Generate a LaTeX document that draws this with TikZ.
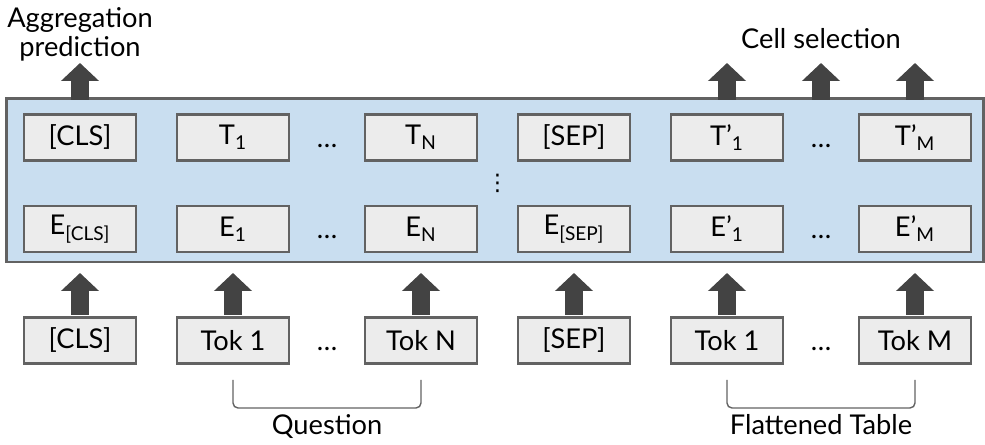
\documentclass[tikz,border=0pt]{standalone}
\usepackage{fontspec}
\setmainfont{Lato}
\newfontfamily\symfont{DejaVu Sans}
\usetikzlibrary{positioning,arrows.meta,fit,backgrounds}
\usepackage{xcolor}
\definecolor{TapasBlue}{RGB}{201,222,240}
\definecolor{TapasGray}{RGB}{236,236,236}
\definecolor{TapasLine}{RGB}{98,98,98}
\definecolor{TapasArrow}{RGB}{67,67,67}

\begin{document}
\begin{tikzpicture}[
node distance=8.2mm,
font=\fontsize{15.5}{19}\selectfont,
tokbox/.style={
rectangle,draw=TapasLine,fill=TapasGray,line width=1.6pt,
minimum width=2.24cm,minimum height=0.92cm,inner sep=0pt,outer sep=0pt
},
encoder/.style={rectangle,draw=TapasLine,fill=TapasBlue,line width=1.6pt,inner sep=0pt,outer sep=0pt},
hdots/.style={inner sep=0pt},
lbl/.style={inner sep=0pt,align=center,font=\fontsize{15.5}{16.5}\selectfont},
blockarrow/.style={-{Triangle[width=0.74cm,length=0.36cm]},line width=0.36cm,draw=TapasArrow},
bracket/.style={draw=TapasLine,line width=0.8pt,rounded corners=1mm}
]

\useasboundingbox (-1.6,-6.15) rectangle (18.1,2.75);

\node[tokbox] (cls) {[CLS]};
\node[tokbox,right=of cls] (t1) {T\textsubscript{1}};
\node[tokbox,right=1.52cm of t1] (tn) {T\textsubscript{N}};
\node[tokbox,right=of tn] (sep) {[SEP]};
\node[tokbox,right=of sep] (tp1) {T’\textsubscript{1}};
\node[tokbox,right=1.52cm of tp1] (tpm) {T’\textsubscript{M}};

\node[tokbox,below=0.91cm of cls] (ecls) {E\textsubscript{[CLS]}};
\node[tokbox,below=0.91cm of t1] (e1) {E\textsubscript{1}};
\node[tokbox,below=0.91cm of tn] (en) {E\textsubscript{N}};
\node[tokbox,below=0.91cm of sep] (esep) {E\textsubscript{[SEP]}};
\node[tokbox,below=0.91cm of tp1] (ep1) {E’\textsubscript{1}};
\node[tokbox,below=0.91cm of tpm] (epm) {E’\textsubscript{M}};

\node[tokbox,below=1.31cm of ecls] (icls) {[CLS]};
\node[tokbox,below=1.31cm of e1] (i1) {Tok 1};
\node[tokbox,below=1.31cm of en] (in) {Tok N};
\node[tokbox,below=1.31cm of esep] (isep) {[SEP]};
\node[tokbox,below=1.31cm of ep1] (ip1) {Tok 1};
\node[tokbox,below=1.31cm of epm] (ipm) {Tok M};

\path (t1) -- (tn) node[hdots,midway] (tdots1) {\vphantom{T}…};
\path (tp1) -- (tpm) node[hdots,midway] (tdots2) {\vphantom{T}…};
\path (e1) -- (en) node[hdots,midway] (edots1) {\vphantom{T}…};
\path (ep1) -- (epm) node[hdots,midway] (edots2) {\vphantom{T}…};
\path (i1) -- (in) node[hdots,midway] (idots1) {\vphantom{T}…};
\path (ip1) -- (ipm) node[hdots,midway] (idots2) {\vphantom{T}…};

\begin{scope}[on background layer]
\node[encoder,fit={([xshift=-0.35cm,yshift=0.32cm]cls.north west) ([xshift=0.25cm,yshift=-0.2cm]epm.south east)}] (enc) {};
\end{scope}
\path (tn) -- (esep) node[midway,inner sep=0pt] (vdots) {\symfont\fontsize{13}{13}\selectfont ⋮};

\foreach \a/\b in {icls/ecls,i1/e1,in/en,isep/esep,ip1/ep1,ipm/epm}
\draw[blockarrow,shorten <=0.05cm,shorten >=0.42cm] (\a) -- (\b);

\coordinate[above=1.03cm of cls.north] (c0);
\coordinate[above=1.03cm of tp1.north] (c1);
\coordinate (c2) at (tdots2 |- c1);
\coordinate[above=1.03cm of tpm.north] (c3);

\draw[blockarrow,shorten <=0.29cm] (cls) -- (c0);
\draw[blockarrow,shorten <=0.29cm] (tp1) -- (c1);
\draw[blockarrow,shorten <=-0.03cm] (tdots2 |- enc.north) -- (c2);
\draw[blockarrow,shorten <=0.29cm] (tpm) -- (c3);

\node[lbl,above=0.02cm of c0] (agg) {Aggregation\\prediction};
\node[lbl,above=0.28cm of c2] (cell) {Cell selection};

\draw[bracket] ([yshift=-0.33cm]i1.south) -- ([yshift=-0.89cm]i1.south) -- ([yshift=-0.89cm]in.south) -- ([yshift=-0.33cm]in.south);
\draw[bracket] ([yshift=-0.33cm]ip1.south) -- ([yshift=-0.89cm]ip1.south) -- ([yshift=-0.89cm]ipm.south) -- ([yshift=-0.33cm]ipm.south);
\path (i1.south) -- (in.south) coordinate[midway] (qmid);
\path (ip1.south) -- (ipm.south) coordinate[midway] (tmid);
\node[lbl,below=1.02cm of qmid] (question) {Question};
\node[lbl,below=1.02cm of tmid] (table) {Flattened Table};

\end{tikzpicture}
\end{document}
